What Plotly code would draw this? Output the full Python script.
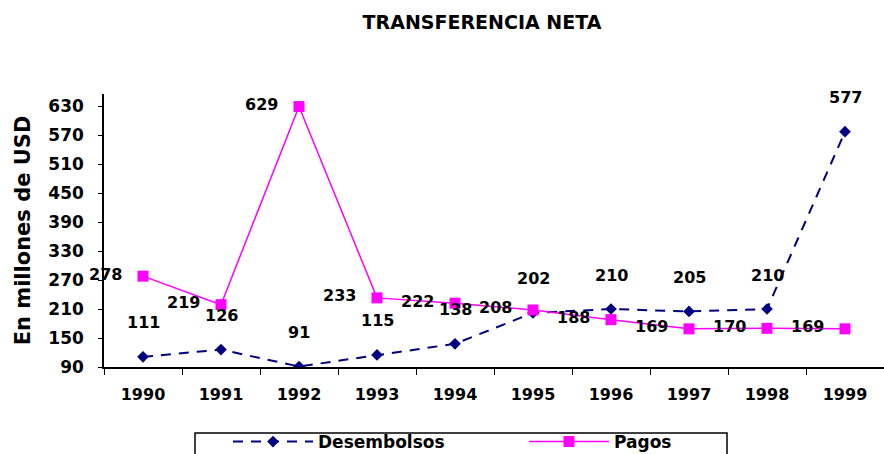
import plotly.graph_objects as go

years = ["1990", "1991", "1992", "1993", "1994", "1995", "1996", "1997", "1998", "1999"]
desembolsos = [111, 126, 91, 115, 138, 202, 210, 205, 210, 577]
pagos = [278, 219, 629, 233, 222, 208, 188, 169, 170, 169]
y_ticks = [90, 150, 210, 270, 330, 390, 450, 510, 570, 630]

FONT = "DejaVu Sans"
W, H = 884, 454
ML, MR, MT, MB = 104, 0, 94, 87
PW, PH = W - ML - MR, H - MT - MB

fig = go.Figure()
fig.add_trace(go.Scatter(
    x=years, y=desembolsos, name="Desembolsos", mode="lines+markers",
    line=dict(color="#000080", width=2, dash="10px,8px"),
    marker=dict(symbol="diamond", size=9, color="#000080"),
))
fig.add_trace(go.Scatter(
    x=years, y=pagos, name="Pagos", mode="lines+markers",
    line=dict(color="#FF00FF", width=1.5),
    marker=dict(symbol="square", size=11, color="#FF00FF"),
))

lab_font = dict(family=FONT, size=16, color="black", weight="bold")
for i, v in enumerate(desembolsos):
    fig.add_annotation(x=i, y=v, text=str(v), showarrow=False,
                       xanchor="center", yanchor="middle", yshift=34, font=lab_font)
for i, v in enumerate(pagos):
    fig.add_annotation(x=i, y=v, text=str(v), showarrow=False,
                       xanchor="right", yanchor="middle", xshift=-19, yshift=2, font=lab_font)

def px_x(p):
    return (p - ML) / PW

def px_y(p):
    return (H - MB - p) / PH

# legend box
fig.add_shape(type="rect", xref="paper", yref="paper",
              x0=px_x(195), x1=px_x(727), y0=px_y(470), y1=px_y(433),
              line=dict(color="black", width=1.5), fillcolor="rgba(0,0,0,0)")

fig.update_layout(
    width=W, height=H,
    margin=dict(l=ML, r=MR, t=MT, b=MB),
    paper_bgcolor="white", plot_bgcolor="white",
    font=dict(family=FONT, color="black"),
    title=dict(text="TRANSFERENCIA NETA", x=482 / W, xref="container", xanchor="center",
               y=1 - 22 / H, yref="container", yanchor="middle",
               font=dict(family=FONT, size=19, color="black", weight="bold")),
    xaxis=dict(
        type="category", range=[-0.5, 9.5], showgrid=False, zeroline=False,
        showline=True, linecolor="black", linewidth=1.5, automargin=False,
        ticks="outside", tickson="boundaries", ticklen=6, tickcolor="black", tickwidth=1,
        tickfont=dict(family=FONT, size=16, color="black", weight="bold"),
        ticklabelstandoff=12,
    ),
    yaxis=dict(
        range=[90, 655], tickvals=y_ticks, showgrid=False, zeroline=False,
        showline=True, linecolor="black", linewidth=1.5, automargin=False,
        ticks="outside", ticklen=4, tickcolor="black", tickwidth=1,
        tickfont=dict(family=FONT, size=17, color="black", weight="bold"),
        ticklabelstandoff=11,
        title=dict(text="En millones de USD", standoff=12,
                   font=dict(family=FONT, size=21, color="black", weight="bold")),
    ),
    showlegend=True,
    legend=dict(
        orientation="h", xref="container", yref="container",
        x=195 / W, xanchor="left", y=1 - 424 / H, yanchor="top",
        borderwidth=0, bgcolor="rgba(0,0,0,0)",
        indentation=33, itemwidth=80, entrywidth=168,
        font=dict(family=FONT, size=17, color="black", weight="bold"),
    ),
)

fig.write_html("out.html", config={"displayModeBar": False},
               post_script="document.body.style.margin='0';")
